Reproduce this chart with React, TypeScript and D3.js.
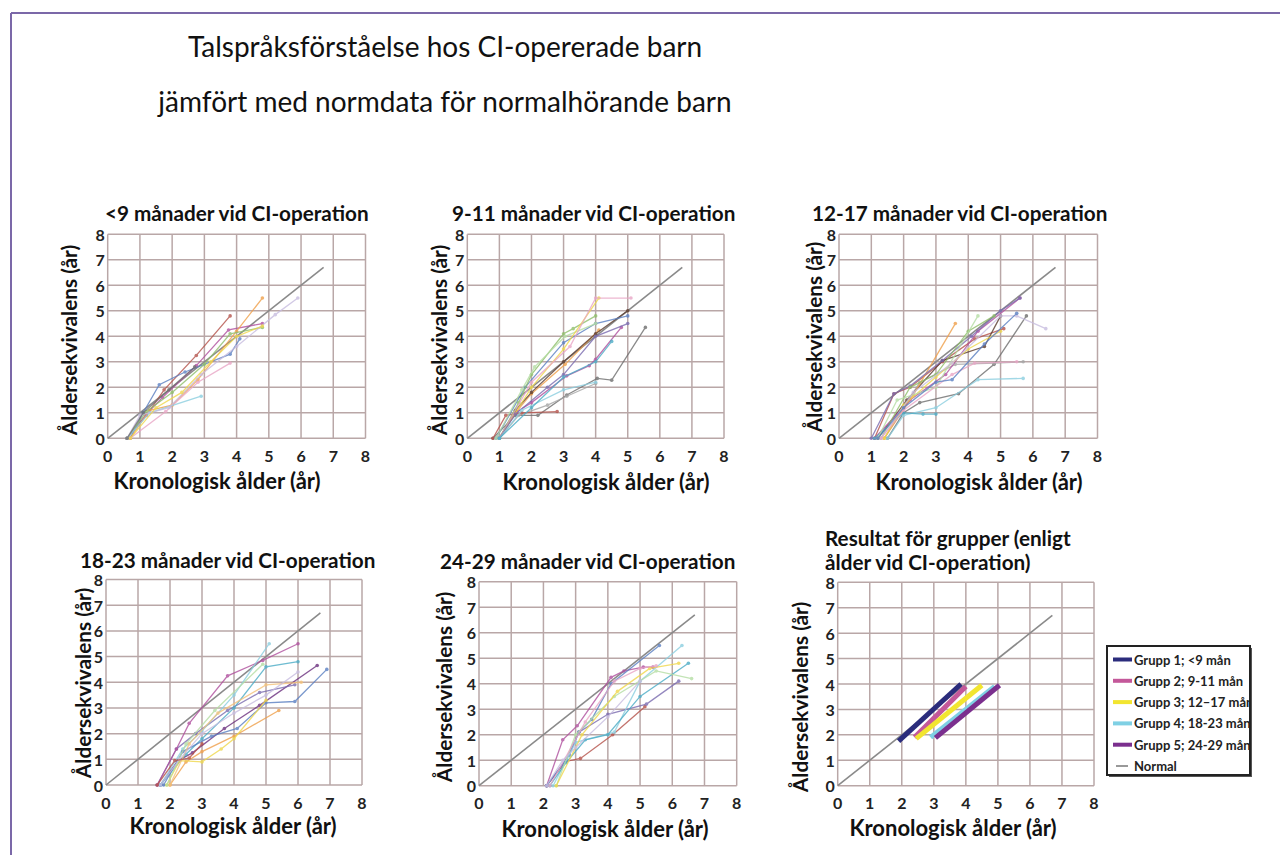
import React from 'react'
import * as d3 from 'd3'

const WIDTH = 1280
const HEIGHT = 855
const FONT = 'Lato, "Open Sans", sans-serif'

// ---- data ----
const titleLines = [
  'Talspråksförståelse hos CI-opererade barn',
  'jämfört med normdata för normalhörande barn'
]
const panelTitles = [
  ['<9 månader vid CI-operation'],
  ['9-11 månader vid CI-operation'],
  ['12-17 månader vid CI-operation'],
  ['18-23 månader vid CI-operation'],
  ['24-29 månader vid CI-operation'],
  ['Resultat för grupper (enligt', 'ålder vid CI-operation)']
]
const xAxisTitle = 'Kronologisk ålder (år)'
const yAxisTitle = 'Åldersekvivalens (år)'
const axisTicks = [0, 1, 2, 3, 4, 5, 6, 7, 8]
const normalLine = [[0, 0], [6.7, 6.7]]

const lt9Series = [
  [[0.6, 0], [1.2, 0.9], [1.75, 1.9], [2.75, 3.25], [3.8, 4.8]],
  [[0.6, 0], [1.2, 0.95], [1.7, 1.6], [2.75, 2.85], [3.75, 4.25], [4.8, 4.5]],
  [[0.7, 0], [1.1, 1.0], [1.6, 2.1], [2.4, 2.6], [3.8, 3.3], [4.1, 3.9]],
  [[0.7, 0], [1.3, 1.1], [2.0, 1.3], [2.8, 2.3], [4.0, 4.2], [4.8, 5.5]],
  [[0.6, 0], [1.2, 1.05], [2.0, 1.8], [3.0, 2.9], [3.8, 4.1], [4.8, 4.35]],
  [[0.7, 0], [1.8, 1.05], [2.8, 2.2], [3.8, 2.95]],
  [[0.6, 0], [1.3, 1.0], [2.9, 1.65]],
  [[0.6, 0], [1.0, 0.9], [1.9, 1.2], [2.9, 2.5], [4.0, 3.6], [5.2, 4.85], [5.9, 5.5]],
  [[0.7, 0], [1.5, 1.2], [2.3, 1.8], [3.2, 3.0], [4.0, 4.0], [4.8, 4.4]],
  [[0.6, 0], [1.1, 1.0], [1.9, 1.9], [2.7, 2.8]]
]
const m9to11Series = [
  [[0.8, 0], [1.5, 0.9], [2.2, 0.9], [3.1, 1.7], [4.05, 2.35], [4.5, 2.28], [5.55, 4.35]],
  [[1.0, 0], [1.6, 0.9], [2.5, 1.3], [3.1, 1.65], [4.0, 2.15]],
  [[0.8, 0], [1.2, 0.9], [1.7, 1.0], [2.8, 1.05]],
  [[1.0, 0], [1.5, 1.0], [2.0, 1.4], [3.1, 2.45], [3.8, 2.85], [4.0, 3.1], [4.8, 4.35]],
  [[1.0, 0], [1.5, 1.0], [2.0, 1.75], [3.05, 2.9], [4.1, 4.25]],
  [[1.0, 0], [1.5, 1.1], [2.0, 1.8], [3.0, 3.0], [4.0, 4.1], [5.0, 5.0]],
  [[0.9, 0], [1.8, 2.0], [3.0, 3.75], [4.0, 4.5], [5.0, 4.8]],
  [[1.0, 0], [1.6, 1.4], [2.0, 2.5], [3.0, 4.1], [3.3, 4.3], [4.0, 4.8]],
  [[0.9, 0], [1.7, 1.9], [2.1, 2.8], [3.05, 4.0], [4.0, 4.5]],
  [[1.0, 0], [2.0, 2.0], [3.0, 3.5], [4.1, 5.5]],
  [[1.0, 0], [2.0, 2.2], [3.2, 3.6], [4.0, 5.5], [5.1, 5.5]],
  [[1.0, 0], [1.5, 0.95], [2.5, 2.0], [3.0, 2.5], [4.0, 4.0], [5.0, 4.5]],
  [[1.0, 0], [1.7, 1.1], [3.0, 1.9], [4.0, 2.2]],
  [[1.0, 0], [2.0, 1.2], [3.0, 2.4], [4.0, 3.0], [4.5, 3.8]]
]
const m12to17Series = [
  [[1.1, 0], [1.7, 1.75], [2.2, 2.0], [3.2, 3.0], [4.2, 3.9], [5.1, 4.3]],
  [[1.5, 0], [2.0, 1.0], [2.5, 1.4], [3.7, 1.75], [4.8, 2.9], [5.8, 4.8]],
  [[1.4, 0], [2.5, 2.2], [3.6, 2.9], [4.8, 2.95], [5.7, 3.0]],
  [[1.2, 0], [2.1, 1.5], [3.2, 3.05], [4.5, 3.6], [5.0, 4.8]],
  [[1.4, 0], [2.3, 1.7], [3.6, 4.5]],
  [[1.1, 0], [2.2, 1.5], [3.3, 2.5], [4.3, 4.2], [5.6, 5.5]],
  [[1.0, 0], [1.7, 1.75], [2.2, 2.05], [3.2, 3.05], [4.1, 4.0], [5.0, 5.0], [5.6, 5.5]],
  [[1.5, 0], [2.0, 0.9], [3.0, 1.2], [4.3, 2.3], [5.7, 2.35]],
  [[1.1, 0], [2.0, 1.0], [2.6, 0.95], [3.0, 0.95]],
  [[1.3, 0], [2.2, 2.0], [3.0, 2.5], [4.0, 4.2], [4.8, 4.8]],
  [[1.4, 0], [2.0, 1.3], [3.0, 2.4], [4.0, 3.5], [5.0, 4.2]],
  [[1.2, 0], [1.8, 1.5], [3.0, 2.0], [4.3, 4.8]],
  [[1.3, 0], [2.3, 1.8], [3.5, 2.95], [5.0, 4.8], [5.5, 4.8], [6.4, 4.3]],
  [[1.3, 0], [2.0, 1.1], [3.5, 2.5], [4.2, 2.95], [5.5, 3.0]],
  [[1.2, 0], [2.0, 1.2], [3.0, 2.2], [3.5, 2.3], [4.5, 3.7], [5.5, 4.9]]
]
const m18to23Series = [
  [[1.7, 0], [2.25, 0.95], [2.7, 1.25], [3.7, 2.2], [4.8, 3.1], [6.6, 4.65]],
  [[1.6, 0], [2.2, 1.4], [2.8, 2.0], [3.8, 2.9], [4.8, 3.6], [5.9, 3.9]],
  [[1.6, 0], [2.2, 1.4], [2.6, 2.4], [3.8, 4.25], [4.9, 4.85], [6.0, 5.5]],
  [[1.7, 0], [2.4, 1.4], [3.0, 2.1], [4.0, 3.5], [5.1, 5.5]],
  [[1.7, 0], [2.5, 1.2], [3.0, 1.8], [4.0, 3.0], [5.0, 4.6], [6.0, 4.8]],
  [[1.8, 0], [2.4, 1.3], [3.3, 1.9], [4.1, 2.2], [5.0, 3.2], [5.9, 3.25], [6.9, 4.5]],
  [[2.0, 0], [2.5, 0.9], [3.0, 1.3], [4.0, 1.9], [5.4, 2.9]],
  [[1.9, 0], [2.3, 0.95], [3.0, 0.9], [3.6, 1.4], [4.0, 1.8], [5.0, 3.3]],
  [[2.0, 0], [2.6, 1.6], [3.5, 2.8], [5.0, 3.9], [6.1, 4.0]],
  [[1.9, 0], [2.5, 1.6], [3.4, 2.9], [4.9, 4.7]],
  [[1.7, 0], [2.3, 1.0], [3.0, 2.0], [4.0, 2.8], [5.0, 3.5], [6.0, 4.4]],
  [[1.6, 0], [2.15, 0.95], [2.6, 1.05], [3.0, 1.6]]
]
const m24to29Series = [
  [[2.1, 0], [2.6, 1.8], [3.05, 2.35], [4.1, 4.25], [4.5, 4.5], [5.1, 4.65], [5.4, 4.65]],
  [[2.1, 0], [2.7, 0.95], [3.15, 1.07], [4.15, 2.0], [5.15, 3.1]],
  [[2.1, 0], [2.7, 1.0], [3.1, 2.1], [4.0, 2.8], [5.2, 3.2], [6.2, 4.1]],
  [[2.1, 0], [2.8, 1.2], [3.1, 2.1], [3.5, 2.6], [4.1, 4.0], [5.6, 5.5]],
  [[2.3, 0], [3.0, 1.7], [4.2, 2.1], [5.0, 4.1], [6.3, 5.5]],
  [[2.2, 0], [2.7, 0.9], [3.3, 1.8], [4.0, 2.0], [5.0, 3.5], [6.5, 4.8]],
  [[2.4, 0], [3.0, 2.0], [4.2, 3.5], [5.5, 4.5], [6.6, 4.2]],
  [[2.4, 0], [3.2, 2.0], [4.3, 3.7], [5.3, 4.6], [6.2, 4.8]],
  [[2.2, 0], [3.3, 2.5], [4.2, 4.1], [5.0, 4.6], [5.5, 4.7]],
  [[2.1, 0], [2.6, 1.0], [3.0, 1.5], [4.0, 2.7], [5.0, 4.1]]
]
const groupNames = [
  'Grupp 1; <9 mån',
  'Grupp 2; 9-11 mån',
  'Grupp 3; 12–17 mån',
  'Grupp 4; 18-23 mån',
  'Grupp 5; 24-29 mån'
]
const groupLines = [
  [[1.9, 1.75], [3.85, 4.0]],
  [[2.4, 1.9], [4.0, 3.9]],
  [[2.45, 1.85], [4.5, 3.95]],
  [[2.9, 1.9], [4.9, 3.9]],
  [[3.05, 1.88], [5.05, 3.95]]
]
const normalLabel = 'Normal'

// ---- styles / layout ----
const palette = [
  '#b5524a', '#b0509e', '#5a7fc2', '#f0a04a', '#8fbf6a', '#e9a6c6', '#8ccfe0', '#c8bde0',
  '#f0d84c', '#6e6e6e', '#b5dea4', '#7a6bb0', '#4bacc6', '#a5a5a5', '#5b3b2e', '#6b2f7e',
  '#f5c27a'
]
const panelColors = [
  [0, 1, 2, 3, 4, 5, 6, 7, 8, 9],
  [9, 13, 0, 1, 3, 14, 2, 4, 10, 8, 5, 11, 6, 12],
  [0, 9, 13, 14, 3, 1, 11, 6, 12, 4, 8, 10, 7, 5, 2],
  [15, 11, 1, 6, 12, 2, 3, 8, 16, 10, 7, 0],
  [1, 0, 11, 2, 6, 12, 10, 8, 5, 7]
]
const groupColors = ['#2b2c7c', '#c4589a', '#f2e530', '#7fd0e4', '#7b2f8e']
const GRID = '#b9a7a7'
const TITLE_SIZE = 20.7
const X_TITLE_SIZE = 22
const Y_TITLE_SIZE = 20.8
const TICK_SIZE = 16

const layout = [
  { left: 107.7, top: 234.3, w: 257.8, h: 204, tx: 105, ty: 213, xtx: 217, xty: 480, ytx: 68, yty: 340 },
  { left: 467.3, top: 234.3, w: 256.7, h: 204, tx: 452, ty: 213, xtx: 606, xty: 481, ytx: 438, yty: 340 },
  { left: 839, top: 234.3, w: 258.5, h: 204, tx: 812, ty: 213, xtx: 979, xty: 481, ytx: 813, yty: 337 },
  { left: 106, top: 579.5, w: 256, h: 205.5, tx: 80, ty: 560, xtx: 233, xty: 825, ytx: 82, yty: 683 },
  { left: 479, top: 581.7, w: 257.7, h: 204, tx: 440, ty: 561, xtx: 605, xty: 828, ytx: 443, yty: 687 },
  { left: 837.7, top: 582.3, w: 256.3, h: 203.4, tx: 825, ty: 538, xtx: 953, xty: 827, ytx: 799, yty: 697 }
]
const panelSeries = [lt9Series, m9to11Series, m12to17Series, m18to23Series, m24to29Series]

const Panel = ({ idx }: { idx: number }) => {
  const L = layout[idx]
  const x = d3.scaleLinear().domain([0, 8]).range([L.left, L.left + L.w])
  const y = d3.scaleLinear().domain([0, 8]).range([L.top + L.h, L.top])
  const line = d3
    .line<number[]>()
    .x(d => x(d[0]))
    .y(d => y(d[1]))
  const series = panelSeries[idx]

  return (
    <g>
      {panelTitles[idx].map((t, i) => (
        <text key={i} x={L.tx} y={L.ty + i * 23.7} dominantBaseline="central" fontSize={TITLE_SIZE} fontWeight={700} fill="#111">
          {t}
        </text>
      ))}
      <rect x={L.left} y={L.top} width={L.w} height={L.h} fill="#fff" />
      {axisTicks.map(t => (
        <g key={t}>
          <line x1={x(t)} x2={x(t)} y1={y(0)} y2={y(8)} stroke={GRID} strokeWidth={1.5} />
          <line x1={x(0)} x2={x(8)} y1={y(t)} y2={y(t)} stroke={GRID} strokeWidth={1.5} />
          <text x={x(t)} y={y(0) + 17} textAnchor="middle" dominantBaseline="central" fontSize={TICK_SIZE} fontWeight={700} fill="#222">
            {t}
          </text>
          <text x={x(0) - 3} y={y(t)} textAnchor="end" dominantBaseline="central" fontSize={TICK_SIZE} fontWeight={700} fill="#222">
            {t}
          </text>
        </g>
      ))}
      <path d={line(normalLine) || ''} fill="none" stroke="#8a8a8a" strokeWidth={1.6} />
      {series &&
        series.map((s, i) => {
          const c = palette[panelColors[idx][i % panelColors[idx].length]]
          return (
            <g key={i} opacity={0.8}>
              <path d={line(s) || ''} fill="none" stroke={c} strokeWidth={1.3} />
              {s.map((p, j) => (
                <circle key={j} cx={x(p[0])} cy={y(p[1])} r={1.8} fill={c} />
              ))}
            </g>
          )
        })}
      {idx === 5 &&
        groupLines.map((g, i) => (
          <path key={i} d={line(g) || ''} fill="none" stroke={groupColors[i]} strokeWidth={5} />
        ))}
      <text x={L.xtx} y={L.xty} textAnchor="middle" dominantBaseline="central" fontSize={X_TITLE_SIZE} fontWeight={700} fill="#111">
        {xAxisTitle}
      </text>
      <text
        transform={`translate(${L.ytx},${L.yty}) rotate(-90)`}
        textAnchor="middle"
        dominantBaseline="central"
        fontSize={Y_TITLE_SIZE}
        fontWeight={700}
        fill="#111"
      >
        {yAxisTitle}
      </text>
    </g>
  )
}

const Legend = () => {
  const top = 646
  const left = 1107
  const boxW = 143
  const boxH = 129
  const step = 21.3
  return (
    <g>
      <defs>
        <clipPath id="legend-clip">
          <rect x={left} y={top} width={boxW} height={boxH} />
        </clipPath>
      </defs>
      <rect x={left + 2} y={top + 2} width={boxW} height={boxH} fill="#555" />
      <rect x={left} y={top} width={boxW} height={boxH} fill="#fff" />
      <g clipPath="url(#legend-clip)">
        {groupNames.map((n, i) => (
          <g key={n}>
            <line x1={left + 6} x2={left + 25} y1={top + 13.5 + i * step} y2={top + 13.5 + i * step} stroke={groupColors[i]} strokeWidth={4} />
            <text x={left + 27} y={top + 13.5 + i * step} dominantBaseline="central" fontSize={13} fontWeight={700} fill="#222">
              {n}
            </text>
          </g>
        ))}
        <line x1={left + 9} x2={left + 21} y1={top + 13.5 + 5 * step} y2={top + 13.5 + 5 * step} stroke="#999" strokeWidth={2} />
        <text x={left + 27} y={top + 13.5 + 5 * step} dominantBaseline="central" fontSize={13} fontWeight={700} fill="#222">
          {normalLabel}
        </text>
      </g>
      <rect x={left} y={top} width={boxW} height={boxH} fill="none" stroke="#222" strokeWidth={2} />
    </g>
  )
}

const App = () => {
  return (
    <svg
      width={WIDTH}
      height={HEIGHT}
      style={{ position: 'absolute', left: 0, top: 0, fontFamily: FONT }}
    >
      <rect width={WIDTH} height={HEIGHT} fill="#fff" />
      <line x1={11} x2={WIDTH} y1={13} y2={13} stroke="#7b68a8" strokeWidth={2} />
      <line x1={11} x2={11} y1={13} y2={HEIGHT} stroke="#7b68a8" strokeWidth={2} />
      {titleLines.map((t, i) => (
        <text key={i} x={445} y={46 + i * 55} textAnchor="middle" dominantBaseline="central" fontSize={28} fill="#111">
          {t}
        </text>
      ))}
      {layout.map((_, i) => (
        <Panel key={i} idx={i} />
      ))}
      <Legend />
    </svg>
  )
}

export default App
